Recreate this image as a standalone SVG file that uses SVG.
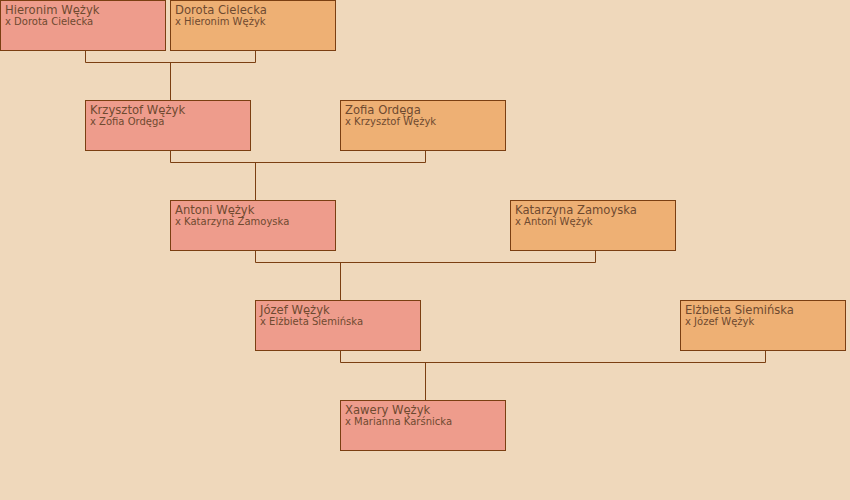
<svg xmlns="http://www.w3.org/2000/svg" width="850" height="500" viewBox="0 0 850 500">
<style>
.m rect{fill:#EE9C8C;stroke:#7B3F12;stroke-width:1}
.f rect{fill:#EEB074;stroke:#7B3F12;stroke-width:1}
.n1{font-family:"DejaVu Sans",sans-serif;font-size:11.6px;fill:#6E4A30}
.n2{font-family:"DejaVu Sans",sans-serif;font-size:10px;fill:#6E4A30}
#links path{fill:none;stroke:#7B3F12;stroke-width:1}
</style>
<rect width="850" height="500" fill="#EFD8BB"/>
<g id="links">
<path d="M85.5 50.5V62.5H255.5V50.5M170.5 62.5V100.5"/>
<path d="M170.5 150.5V162.5H425.5V150.5M255.5 162.5V200.5"/>
<path d="M255.5 250.5V262.5H595.5V250.5M340.5 262.5V300.5"/>
<path d="M340.5 350.5V362.5H765.5V350.5M425.5 362.5V400.5"/>
</g>
<g id="hieronim" class="m"><rect x="0.5" y="0.5" width="165" height="50"/><text class="n1" x="5" y="14">Hieronim Wężyk</text><text class="n2" x="5" y="25">x Dorota Cielecka</text></g>
<g id="dorota" class="f"><rect x="170.5" y="0.5" width="165" height="50"/><text class="n1" x="175" y="14">Dorota Cielecka</text><text class="n2" x="175" y="25">x Hieronim Wężyk</text></g>
<g id="krzysztof" class="m"><rect x="85.5" y="100.5" width="165" height="50"/><text class="n1" x="90" y="114">Krzysztof Wężyk</text><text class="n2" x="90" y="125">x Zofia Ordęga</text></g>
<g id="zofia" class="f"><rect x="340.5" y="100.5" width="165" height="50"/><text class="n1" x="345" y="114">Zofia Ordęga</text><text class="n2" x="345" y="125">x Krzysztof Wężyk</text></g>
<g id="antoni" class="m"><rect x="170.5" y="200.5" width="165" height="50"/><text class="n1" x="175" y="214">Antoni Wężyk</text><text class="n2" x="175" y="225">x Katarzyna Zamoyska</text></g>
<g id="katarzyna" class="f"><rect x="510.5" y="200.5" width="165" height="50"/><text class="n1" x="515" y="214">Katarzyna Zamoyska</text><text class="n2" x="515" y="225">x Antoni Wężyk</text></g>
<g id="jozef" class="m"><rect x="255.5" y="300.5" width="165" height="50"/><text class="n1" x="260" y="314">Józef Wężyk</text><text class="n2" x="260" y="325">x Elżbieta Siemińska</text></g>
<g id="elzbieta" class="f"><rect x="680.5" y="300.5" width="165" height="50"/><text class="n1" x="685" y="314">Elżbieta Siemińska</text><text class="n2" x="685" y="325">x Józef Wężyk</text></g>
<g id="xawery" class="m"><rect x="340.5" y="400.5" width="165" height="50"/><text class="n1" x="345" y="414">Xawery Wężyk</text><text class="n2" x="345" y="425">x Marianna Karśnicka</text></g>
</svg>
